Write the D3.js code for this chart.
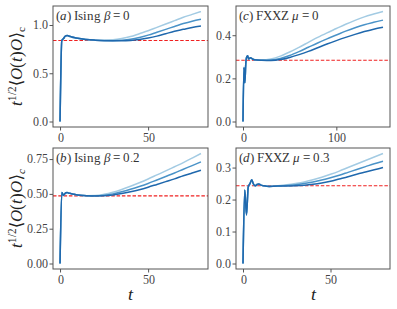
<!DOCTYPE html>
<html>
<head>
<meta charset="utf-8">
<script src="https://cdn.jsdelivr.net/npm/d3@7"></script>
<style>
@font-face { font-family: "PlotSerif"; font-style: normal; src: local("Liberation Serif"), local("LiberationSerif"), local("DejaVu Serif"), local("DejaVuSerif"); }
@font-face { font-family: "PlotSerif"; font-style: italic; src: local("Liberation Serif Italic"), local("LiberationSerif-Italic"), local("DejaVu Serif Italic"), local("DejaVuSerif-Italic"); }
body { margin: 0; background: #fff; }
svg { display: block; }
</style>
</head>
<body>
<svg id="chart" width="397" height="309"></svg>
<script>
// (a) Ising beta = 0
var isingB0T      = [0, 1, 2, 3, 4, 6, 8, 10, 15, 20, 25, 30, 35, 40, 45, 50, 55, 60, 65, 70, 75, 80];
var isingB0Light  = [0, 0.84, 0.86, 0.885, 0.89, 0.88, 0.87, 0.862, 0.85, 0.843, 0.842, 0.847, 0.86, 0.88, 0.91, 0.94, 0.975, 1.01, 1.045, 1.08, 1.11, 1.14];
var isingB0Mid    = [0, 0.84, 0.86, 0.885, 0.89, 0.88, 0.87, 0.862, 0.85, 0.843, 0.839, 0.838, 0.842, 0.852, 0.87, 0.895, 0.925, 0.955, 0.985, 1.015, 1.04, 1.06];
var isingB0Dark   = [0, 0.84, 0.86, 0.885, 0.89, 0.88, 0.87, 0.862, 0.85, 0.843, 0.838, 0.836, 0.836, 0.84, 0.85, 0.865, 0.885, 0.91, 0.935, 0.955, 0.975, 0.99];
var isingB0Ref    = 0.84;

// (b) Ising beta = 0.2
var isingB2T      = [0, 1, 2, 3, 4, 5, 6, 8, 10, 15, 20, 25, 30, 35, 40, 45, 50, 55, 60, 65, 70, 75, 80];
var isingB2Light  = [0, 0.51, 0.49, 0.505, 0.51, 0.505, 0.503, 0.497, 0.492, 0.487, 0.488, 0.497, 0.512, 0.532, 0.555, 0.58, 0.607, 0.636, 0.665, 0.695, 0.725, 0.757, 0.79];
var isingB2Mid    = [0, 0.51, 0.49, 0.505, 0.51, 0.505, 0.503, 0.497, 0.492, 0.487, 0.486, 0.49, 0.5, 0.515, 0.533, 0.553, 0.575, 0.6, 0.625, 0.65, 0.677, 0.703, 0.73];
var isingB2Dark   = [0, 0.51, 0.49, 0.505, 0.51, 0.505, 0.503, 0.497, 0.492, 0.487, 0.485, 0.486, 0.492, 0.502, 0.515, 0.53, 0.548, 0.568, 0.588, 0.608, 0.63, 0.65, 0.67];
var isingB2Ref    = 0.486;

// (c) FXXZ mu = 0
var fxxzM0T       = [0, 1, 2, 3, 4, 5, 6, 8, 10, 15, 20, 30, 40, 50, 60, 70, 80, 90, 100, 110, 120, 130, 140, 150];
var fxxzM0Light   = [0, 0.25, 0.18, 0.27, 0.30, 0.305, 0.29, 0.295, 0.29, 0.285, 0.285, 0.29, 0.303, 0.322, 0.344, 0.367, 0.39, 0.411, 0.431, 0.451, 0.469, 0.485, 0.498, 0.51];
var fxxzM0Mid     = [0, 0.25, 0.18, 0.27, 0.30, 0.305, 0.29, 0.295, 0.29, 0.285, 0.284, 0.285, 0.292, 0.306, 0.324, 0.344, 0.364, 0.383, 0.401, 0.419, 0.435, 0.449, 0.46, 0.47];
var fxxzM0Dark    = [0, 0.25, 0.18, 0.27, 0.30, 0.305, 0.29, 0.295, 0.29, 0.285, 0.284, 0.283, 0.287, 0.297, 0.31, 0.325, 0.342, 0.359, 0.375, 0.39, 0.404, 0.417, 0.428, 0.437];
var fxxzM0Ref     = 0.284;

// (d) FXXZ mu = 0.3
var fxxzM3T       = [0, 1, 2, 3, 4, 5, 6, 7, 8, 9, 10, 12, 15, 20, 25, 30, 35, 40, 45, 50, 55, 60, 65, 70, 75, 80];
var fxxzM3Light   = [0, 0.23, 0.152, 0.24, 0.25, 0.262, 0.248, 0.243, 0.247, 0.249, 0.246, 0.243, 0.241, 0.243, 0.246, 0.25, 0.255, 0.262, 0.27, 0.279, 0.289, 0.3, 0.311, 0.322, 0.333, 0.344];
var fxxzM3Mid     = [0, 0.23, 0.152, 0.24, 0.25, 0.262, 0.248, 0.243, 0.247, 0.249, 0.246, 0.243, 0.241, 0.242, 0.244, 0.246, 0.25, 0.255, 0.261, 0.268, 0.276, 0.285, 0.294, 0.303, 0.312, 0.32];
var fxxzM3Dark    = [0, 0.23, 0.152, 0.24, 0.25, 0.262, 0.248, 0.243, 0.247, 0.249, 0.246, 0.243, 0.241, 0.242, 0.242, 0.243, 0.245, 0.248, 0.252, 0.257, 0.264, 0.271, 0.279, 0.286, 0.293, 0.30];
var fxxzM3Ref     = 0.243;

var COLORS = ["#a3cbe3", "#4a93c8", "#1f68ad"]; // light, mid, dark

var panels = [
  { tag: "a", name: "Ising", sym: "β", val: "0",   t: isingB0T, s: [isingB0Light, isingB0Mid, isingB0Dark], ref: isingB0Ref,
    yTicks: [0, 0.5, 1.0], yFmt: ".1f", xTicks: [0, 50], col: 0, row: 0 },
  { tag: "b", name: "Ising", sym: "β", val: "0.2", t: isingB2T, s: [isingB2Light, isingB2Mid, isingB2Dark], ref: isingB2Ref,
    yTicks: [0, 0.25, 0.5, 0.75], yFmt: ".2f", xTicks: [0, 50], col: 0, row: 1 },
  { tag: "c", name: "FXXZ", sym: "μ", val: "0",   t: fxxzM0T, s: [fxxzM0Light, fxxzM0Mid, fxxzM0Dark], ref: fxxzM0Ref,
    yTicks: [0, 0.2, 0.4], yFmt: ".1f", xTicks: [0, 100], col: 1, row: 0 },
  { tag: "d", name: "FXXZ", sym: "μ", val: "0.3", t: fxxzM3T, s: [fxxzM3Light, fxxzM3Mid, fxxzM3Dark], ref: fxxzM3Ref,
    yTicks: [0, 0.1, 0.2, 0.3], yFmt: ".1f", xTicks: [0, 50], col: 1, row: 1 }
];

var colX = [53, 236], colW = [155, 154];
var rowY = [6, 148], rowH = 121;
var SERIF = "PlotSerif, 'Liberation Serif', 'DejaVu Serif', serif";

var svg = d3.select("#chart");

function pad(ext){ var m = (ext[1] - ext[0]) * 0.05; return [ext[0] - m, ext[1] + m]; }

panels.forEach(function(p){
  var x0 = colX[p.col], y0 = rowY[p.row], w = colW[p.col], h = rowH;
  var all = d3.merge(p.s);
  var x = d3.scaleLinear().domain(pad(d3.extent(p.t))).range([0, w]);
  var y = d3.scaleLinear().domain(pad([d3.min(all), d3.max(all)])).range([h, 0]);

  var g = svg.append("g").attr("transform", "translate(" + x0 + "," + y0 + ")");

  // ref line
  g.append("line")
    .attr("x1", 0).attr("x2", w)
    .attr("y1", y(p.ref)).attr("y2", y(p.ref))
    .attr("stroke", "#f02020").attr("stroke-width", 1.1)
    .attr("stroke-dasharray", "3.5,1.8");

  var line = d3.line()
    .x(function(d, i){ return x(p.t[i]); })
    .y(function(d){ return y(d); })
    .curve(d3.curveMonotoneX);

  p.s.forEach(function(vals, k){
    g.append("path").datum(vals)
      .attr("d", line)
      .attr("fill", "none")
      .attr("stroke", COLORS[k])
      .attr("stroke-width", 1.5);
  });

  // axes
  var ya = g.append("g").call(d3.axisLeft(y).tickValues(p.yTicks).tickFormat(d3.format(p.yFmt)).tickSize(3.5).tickPadding(1.5));
  var xa = g.append("g").attr("transform", "translate(0," + h + ")")
    .call(d3.axisBottom(x).tickValues(p.xTicks).tickFormat(d3.format("d")).tickSize(3.5).tickPadding(2.5));
  [ya, xa].forEach(function(a){
    a.attr("font-family", SERIF).attr("font-size", 12);
    a.select(".domain").remove();
    a.selectAll("line").attr("stroke", "#555");
    a.selectAll("text").attr("fill", "#444");
  });

  // frame
  g.append("rect").attr("width", w).attr("height", h)
    .attr("fill", "none").attr("stroke", "#555").attr("stroke-width", 1);

  // panel title
  var tt = g.append("text").attr("x", 3).attr("y", 14).attr("fill", "#333")
    .attr("font-family", SERIF).attr("font-size", 13);
  tt.append("tspan").text("(");
  tt.append("tspan").attr("font-style", "italic").text(p.tag);
  tt.append("tspan").text(") " + p.name + " ");
  tt.append("tspan").attr("font-style", "italic").text(p.sym);
  tt.append("tspan").text(" = " + p.val);
});

// y labels
[0, 1].forEach(function(r){
  var cy = rowY[r] + rowH / 2;
  var t = svg.append("text")
    .attr("transform", "translate(22," + cy + ") rotate(-90)")
    .attr("text-anchor", "middle")
    .attr("fill", "#222")
    .attr("font-family", SERIF)
    .attr("font-size", 17);
  t.append("tspan").attr("font-style", "italic").text("t");
  t.append("tspan").attr("dy", -6).attr("font-size", 11).text("1/2");
  t.append("tspan").attr("dy", 6).text("⟨");
  t.append("tspan").attr("font-style", "italic").text("O");
  t.append("tspan").text("(");
  t.append("tspan").attr("font-style", "italic").text("t");
  t.append("tspan").text(")");
  t.append("tspan").attr("font-style", "italic").text("O");
  t.append("tspan").text("⟩");
  t.append("tspan").attr("dy", 3).attr("font-size", 11).attr("font-style", r ? "italic" : null).text("c");
});

// x labels
[0, 1].forEach(function(c){
  svg.append("text")
    .attr("x", colX[c] + colW[c] / 2)
    .attr("y", 300)
    .attr("text-anchor", "middle")
    .attr("font-style", "italic")
    .attr("fill", "#222")
    .attr("font-family", SERIF)
    .attr("font-size", 18)
    .text("t");
});
</script>
</body>
</html>
